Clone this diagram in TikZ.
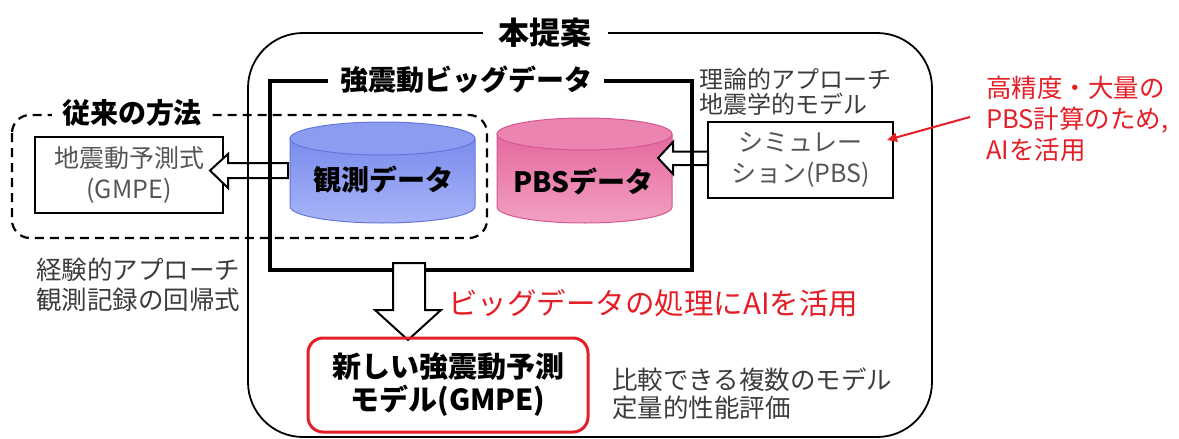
\documentclass[tikz,border=0pt]{standalone}
\usepackage{fontspec}
\setmainfont{Noto Sans CJK JP}
\usetikzlibrary{arrows.meta}
\definecolor{txtgray}{RGB}{60,60,60}
\definecolor{boxgray}{RGB}{85,85,85}
\definecolor{myred}{RGB}{228,30,38}
\definecolor{bluetop}{RGB}{140,156,240}
\definecolor{bluebodyA}{RGB}{122,140,236}
\definecolor{bluebodyB}{RGB}{168,180,248}
\definecolor{blueedge}{RGB}{100,118,222}
\definecolor{pinktop}{RGB}{236,132,178}
\definecolor{pinkbodyA}{RGB}{228,104,158}
\definecolor{pinkbodyB}{RGB}{242,160,194}
\definecolor{pinkedge}{RGB}{214,88,146}
\tikzset{
  normaltxt/.style={font=\fontsize{25}{29}\selectfont, text=txtgray, align=left, inner sep=0pt},
  titletxt/.style={font=\bfseries\fontsize{28}{30}\selectfont, fill=white, inner ysep=2pt},
  plainbox/.style={draw=black, line width=1.8pt, align=center, text=boxgray,
    font=\fontsize{25}{31}\selectfont, inner sep=0pt},
  cyltxt/.style={font=\bfseries\fontsize{28}{30}\selectfont, inner sep=0pt},
  hollow/.style={draw=black, line width=2pt, fill=white, line join=miter},
  redtxt/.style={text=myred, align=left, inner sep=0pt},
}
\begin{document}
\begin{tikzpicture}[x=1pt,y=-1pt]
\useasboundingbox (0,0) rectangle (1179,439);

% cylinder: observation data
\path[top color=bluebodyA, bottom color=bluebodyB, draw=blueedge, line width=1pt]
  (290,138.5) -- (290,206.5) arc[start angle=180, end angle=360, x radius=92.5pt, y radius=16.5pt]
  -- (475,138.5) -- cycle;
\draw[fill=bluetop, draw=blueedge, line width=1pt] (382.5,138.5) ellipse [x radius=92.5pt, y radius=16.5pt];
\node[cyltxt] (obs) at (383,180) {観測データ};

% cylinder: PBS data
\path[top color=pinkbodyA, bottom color=pinkbodyB, draw=pinkedge, line width=1pt]
  (497,134) -- (497,207) arc[start angle=180, end angle=360, x radius=87.5pt, y radius=16pt]
  -- (672,134) -- cycle;
\draw[fill=pinktop, draw=pinkedge, line width=1pt] (584.5,134) ellipse [x radius=87.5pt, y radius=16pt];
\node[cyltxt] (pbs) at (583,181) {PBSデータ};

% boxes
\node[plainbox, minimum width=188pt, minimum height=76pt] (gmpe) at (129,175) {地震動予測式\\(GMPE)};
\node[plainbox, minimum width=185pt, minimum height=76pt] (sim) at (800.5,160) {シミュレー\\ション(PBS)};

% horizontal hollow arrows
\coordinate (obsL) at (288,170.5);
\coordinate (gmpeR) at (210,170.5);
\coordinate (simL) at (708,158);
\coordinate (pbsR) at (658,158);
\draw[hollow] (obsL) ++(0,-7.5) -- (228,163) -- (228,154) -- (gmpeR)
  -- (228,188) -- (228,178) -- (288,178) -- cycle;
\draw[hollow] (simL) ++(0,-6.5) -- (673,151.5) -- (673,142) -- (pbsR)
  -- (673,174) -- (673,165) -- (708,165) -- cycle;

% outer proposal frame
\draw[line width=1.8pt, rounded corners=55pt] (248,33) rectangle (932,437);
\node[titletxt, font=\bfseries\fontsize{31}{32}\selectfont, inner xsep=16pt] (prop) at (545,33) {本提案};

% big data frame
\draw[line width=3.5pt] (270,81) rectangle (692,270);
\node[titletxt, inner xsep=12pt] (bigdata) at (466,80) {強震動ビッグデータ};

% dashed conventional frame
\draw[line width=2.2pt, dash pattern=on 9pt off 6pt, rounded corners=18pt] (12,115) rectangle (487,238);
\node[titletxt, inner xsep=10pt] (conv) at (132,113) {従来の方法};

% texts
\node[normaltxt, anchor=west, font=\fontsize{24}{25}\selectfont] (theory) at (699,92) {理論的アプローチ\\地震学的モデル};
\node[normaltxt, anchor=west, font=\fontsize{25.5}{30}\selectfont] (empir) at (36,285) {経験的アプローチ\\観測記録の回帰式};
\node[normaltxt, anchor=west, font=\fontsize{25.5}{28}\selectfont] (comp) at (612,394) {比較できる複数のモデル\\定量的性能評価};

% red annotation
\node[redtxt, anchor=west, font=\fontsize{25.5}{31}\selectfont] (redanno) at (986,119) {高精度・大量の\\PBS計算のため,\\AIを活用};
\coordinate (rastart) at (970,117);
\coordinate (raend) at (887,140);
\draw[myred, line width=2pt, -{Triangle[length=10pt,width=9pt]}] (rastart) -- (raend);

% down hollow arrow
\draw[hollow] (393,263) -- (393,310) -- (375,310) -- (408,340) -- (441,310) -- (425,310) -- (425,263) -- cycle;
\node[redtxt, anchor=west, font=\fontsize{29.5}{31}\selectfont] (aitxt) at (448,303) {ビッグデータの処理にAIを活用};

% new model box
\node[draw=myred, line width=3pt, rounded corners=15pt, minimum width=280pt, minimum height=94pt,
  align=center, font=\bfseries\fontsize{29}{33}\selectfont, inner sep=0pt] (newm) at (448,385) {新しい強震動予測\\モデル(GMPE)};
\end{tikzpicture}
\end{document}
